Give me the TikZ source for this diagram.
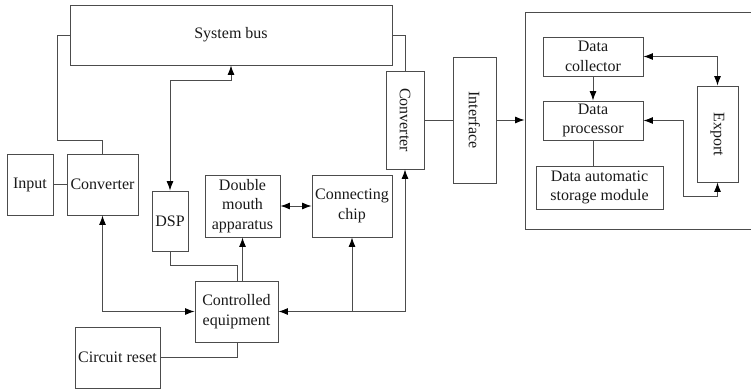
\documentclass[tikz,border=0pt]{standalone}
\usepackage{fontspec}
\setmainfont{Liberation Serif}
\usetikzlibrary{arrows.meta,calc}
\begin{document}
\begin{tikzpicture}[x=1pt,y=-1pt,
  box/.style={draw=black!70, line width=0.9pt, align=center, inner sep=1pt,
    font=\fontsize{16}{19.5}\selectfont, text=black!90},
  link/.style={draw=black!70, line width=0.9pt},
  tip/.style={Latex[length=9.5pt,width=7pt,color=black]},
  arr/.style={link, -{Latex[length=9.5pt,width=7pt,color=black]}},
  darr/.style={link, {Latex[length=9.5pt,width=7pt,color=black]}-{Latex[length=9.5pt,width=7pt,color=black]}},
  vtext/.style={rotate=-90, font=\fontsize{16}{19.5}\selectfont, text=black!90}]
\useasboundingbox (0,0) rectangle (751,391);

% left-hand processing section
\node[box, minimum width=322pt, minimum height=60pt] (bus) at (231,35) {System bus};
\node[box, minimum width=46pt, minimum height=61pt] (input) at (30,184.5) {Input};
\node[box, minimum width=71pt, minimum height=61pt] (conv1) at (102.5,184.5) {Converter};
\node[box, minimum width=36pt, minimum height=60pt] (dsp) at (170,221) {DSP};
\node[box, minimum width=75pt, minimum height=62pt] (dma) at (242.5,206) {Double\\mouth\\apparatus};
\node[box, minimum width=80pt, minimum height=62pt] (chip) at (352,206) {Connecting\\chip};
\node[box, minimum width=83pt, minimum height=61pt] (ctrl) at (236.5,311.5) {Controlled\\equipment};
\node[box, minimum width=85pt, minimum height=61pt] (reset) at (117.5,357.5) {Circuit reset};
\node[box, minimum width=38pt, minimum height=98pt] (conv2) at (405,120) {};
\node[vtext] at (conv2.center) {Converter};
\node[box, minimum width=43pt, minimum height=126pt] (iface) at (474.5,120) {};
\node[vtext] at (iface.center) {Interface};

% right-hand data section
\node[box, minimum width=230pt, minimum height=217pt] (big) at (640,120.5) {};
\node[box, minimum width=100pt, minimum height=39pt] (coll) at (593,56.5) {Data\\collector};
\node[box, minimum width=100pt, minimum height=39pt] (proc) at (593,120.5) {Data\\processor};
\node[box, minimum width=127pt, minimum height=43pt] (store) at (599.5,187.5) {Data automatic\\storage module};
\node[box, minimum width=41pt, minimum height=96pt] (export) at (717.5,134) {};
\node[vtext] at (export.center) {Export};

% connections of the left section
\draw[link] (input.east) -- (conv1.west);
\draw[link] (bus.west) -| (57,140) -| (conv1.north);
\draw[link] (bus.east) -| (conv2.north);
\draw[darr] (dsp.north) |- ($(bus.south)+(0,15)$) -- (bus.south);
\draw[link] (dsp.south) |- ($(ctrl.north)+(1,-15)$) -- ($(ctrl.north)+(1,0)$);
\draw[arr] (ctrl.north -| dma.south) -- (dma.south);
\draw[darr] (dma.east) -- (chip.west);
\draw[darr] (conv1.south) |- (ctrl.west);
\draw[darr] (ctrl.east) -| (conv2.south);
\draw[arr] (ctrl.east -| chip.south) -- (chip.south);
\draw[link] (reset.east) -| ($(ctrl.south)+(1,0)$);
\draw[link] (conv2.east) -- (iface.west);
\draw[arr] (iface.east) -- (iface.east -| big.west);

% connections of the right section
\draw[arr] (coll.south) -- (proc.north);
\draw[link] (proc.south) -- (proc.south |- store.north);
\draw[darr] (coll.east) -| (export.north);
\draw[darr] (proc.east) -| (683,196) -| (export.south);
\end{tikzpicture}
\end{document}
